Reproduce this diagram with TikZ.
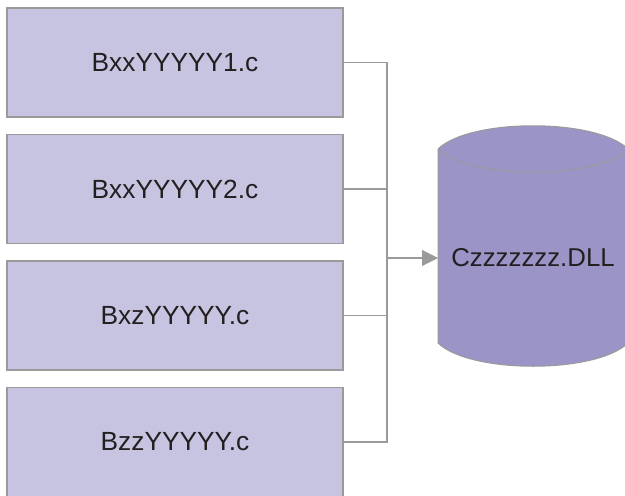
\documentclass[tikz,border=0pt]{standalone}
\usepackage{fontspec}
\setmainfont{Liberation Sans}
\usetikzlibrary{arrows.meta}
\definecolor{boxfill}{HTML}{C7C4E1}
\definecolor{cylfill}{HTML}{9B94C7}
\definecolor{edge}{HTML}{9A9A9A}
\definecolor{ink}{HTML}{231F20}
\begin{document}
\begin{tikzpicture}[x=1pt,y=-1pt,
  srcbox/.style={draw=edge,line width=1.2pt,fill=boxfill,minimum width=336pt,minimum height=109pt,inner sep=0pt,
    font=\fontsize{26.3}{30}\selectfont,text=ink},
  conn/.style={draw=edge,line width=1.1pt},
  lbl/.style={font=\fontsize{25.8}{30}\selectfont,text=ink,inner sep=0pt}]
\useasboundingbox (0,0) rectangle (625,496);
\begin{scope}
\clip (0,0) rectangle (625,496);
\node[srcbox] (b1) at (175,62.5) {BxxYYYYY1.c};
\node[srcbox] (b2) at (175,189) {BxxYYYYY2.c};
\node[srcbox] (b3) at (175,315.5) {BxzYYYYY.c};
\node[srcbox] (b4) at (175,442) {BzzYYYYY.c};
% cylinder
\fill[cylfill] (438,149) .. controls (470,118) and (596,118) .. (628,149) -- (628,343)
  .. controls (596,374) and (470,374) .. (438,343) -- cycle;
\draw[edge,line width=1pt] (438,149) .. controls (470,118) and (596,118) .. (628,149);
\draw[edge,line width=1pt] (438,149) .. controls (470,180) and (596,180) .. (628,149);
\draw[edge,line width=1pt] (438,149) -- (438,343) .. controls (470,374) and (596,374) .. (628,343);
\node[lbl] (dll) at (533,258) {Czzzzzzz.DLL};
\coordinate (cylin) at (438,258);
\coordinate (j1) at (387,62.5);
\coordinate (j4) at (387,442);
\coordinate (jm) at (387,258);
\draw[conn] (b1.east) -- (j1) -- (j4) -- (b4.east);
\draw[conn] (b2.east) -- (b2.east -| jm);
\draw[conn] (b3.east) -- (b3.east -| jm);
\draw[conn,-{Triangle[length=16pt,width=16pt,fill=edge]}] (jm) -- (cylin);
\end{scope}
\end{tikzpicture}
\end{document}
